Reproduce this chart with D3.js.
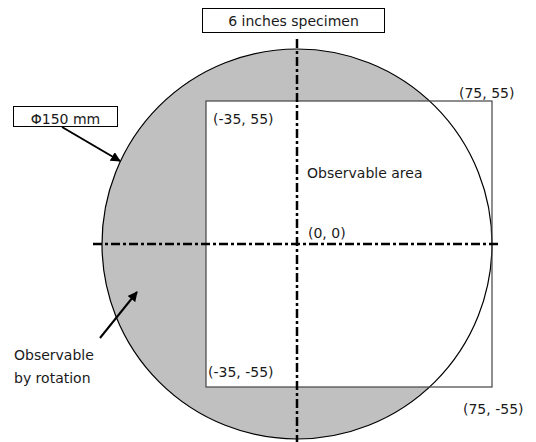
<!DOCTYPE html>
<html><head><meta charset="utf-8">
<script src="https://cdn.jsdelivr.net/npm/d3@7"></script>
<style>body{margin:0;background:#fff}text{font-family:"DejaVu Sans",Verdana,sans-serif;font-size:14px;fill:#1a1a1a}</style>
</head><body>
<script>
const waferRadius = 75; // mm (Φ150)
const areaX = [-35, 75];
const areaY = [-55, 55];
const cornerLabels = ["(-35, 55)", "(75, 55)", "(-35, -55)", "(75, -55)"];
const cornerPts = [[-35, 55], [75, 55], [-35, -55], [75, -55]];
const titleText = "6 inches specimen";
const diamText = "Φ150 mm";
const areaText = "Observable area";
const rotText = ["Observable", "by rotation"];
const originText = "(0, 0)";

const W = 536, H = 442;
const svg = d3.select("body").append("svg").attr("width", W).attr("height", H);
const x = d3.scaleLinear().domain([-75, 75]).range([102, 492]);
const y = d3.scaleLinear().domain([-75, 75]).range([439, 49]);
const cx = x(0), cy = y(0), r = x(waferRadius) - x(0);

const defs = svg.append("defs");
defs.append("clipPath").attr("id", "wc").append("circle").attr("cx", cx).attr("cy", cy).attr("r", r);
defs.append("marker").attr("id", "ah").attr("viewBox", "0 0 10 10").attr("refX", 9).attr("refY", 5)
  .attr("markerWidth", 5).attr("markerHeight", 5).attr("orient", "auto")
  .append("path").attr("d", "M0,0L10,5L0,10z").attr("fill", "#000");

svg.append("circle").attr("cx", cx).attr("cy", cy).attr("r", r).attr("fill", "#c0c0c0");
svg.append("rect").attr("clip-path", "url(#wc)")
  .attr("x", x(areaX[0])).attr("y", y(areaY[1]))
  .attr("width", x(areaX[1]) - x(areaX[0])).attr("height", y(areaY[0]) - y(areaY[1]))
  .attr("fill", "#fff");
svg.append("circle").attr("cx", cx).attr("cy", cy).attr("r", r).attr("fill", "none")
  .attr("stroke", "#000").attr("stroke-width", 1.2);
svg.append("rect")
  .attr("x", x(areaX[0])).attr("y", y(areaY[1]))
  .attr("width", x(areaX[1]) - x(areaX[0])).attr("height", y(areaY[0]) - y(areaY[1]))
  .attr("fill", "none").attr("stroke", "#444").attr("stroke-width", 1.2);

const dash = "9,3,3,3";
svg.append("line").attr("x1", 93).attr("x2", 498).attr("y1", cy).attr("y2", cy)
  .attr("stroke", "#000").attr("stroke-width", 2.5).attr("stroke-dasharray", dash);
svg.append("line").attr("x1", cx).attr("x2", cx).attr("y1", 39).attr("y2", 442)
  .attr("stroke", "#000").attr("stroke-width", 2.5).attr("stroke-dasharray", dash);

svg.append("rect").attr("x", 202.5).attr("y", 8.5).attr("width", 182).attr("height", 24)
  .attr("fill", "#fff").attr("stroke", "#000").attr("stroke-width", 1);
svg.append("text").attr("x", 293.5).attr("y", 26).attr("text-anchor", "middle").text(titleText);

svg.append("rect").attr("x", 13.5).attr("y", 106.5).attr("width", 104).attr("height", 20)
  .attr("fill", "#fff").attr("stroke", "#000").attr("stroke-width", 1);
svg.append("text").attr("x", 65.5).attr("y", 123.5).attr("text-anchor", "middle").text(diamText);
svg.append("line").attr("x1", 62).attr("y1", 127).attr("x2", 120).attr("y2", 161)
  .attr("stroke", "#000").attr("stroke-width", 2).attr("marker-end", "url(#ah)");

svg.append("line").attr("x1", 100).attr("y1", 338).attr("x2", 137).attr("y2", 292)
  .attr("stroke", "#000").attr("stroke-width", 2).attr("marker-end", "url(#ah)");
svg.append("text").attr("x", 14).attr("y", 360).text(rotText[0]);
svg.append("text").attr("x", 14).attr("y", 383).text(rotText[1]);

svg.append("text").attr("x", 307).attr("y", 178).text(areaText);
svg.append("text").attr("x", 308).attr("y", 238).text(originText);
const labOff = [[7, 23], [-33, -3], [2, -10], [-29, 27]];
cornerPts.forEach((p, i) => {
  svg.append("text").attr("x", x(p[0]) + labOff[i][0]).attr("y", y(p[1]) + labOff[i][1]).text(cornerLabels[i]);
});
</script>
</body></html>
